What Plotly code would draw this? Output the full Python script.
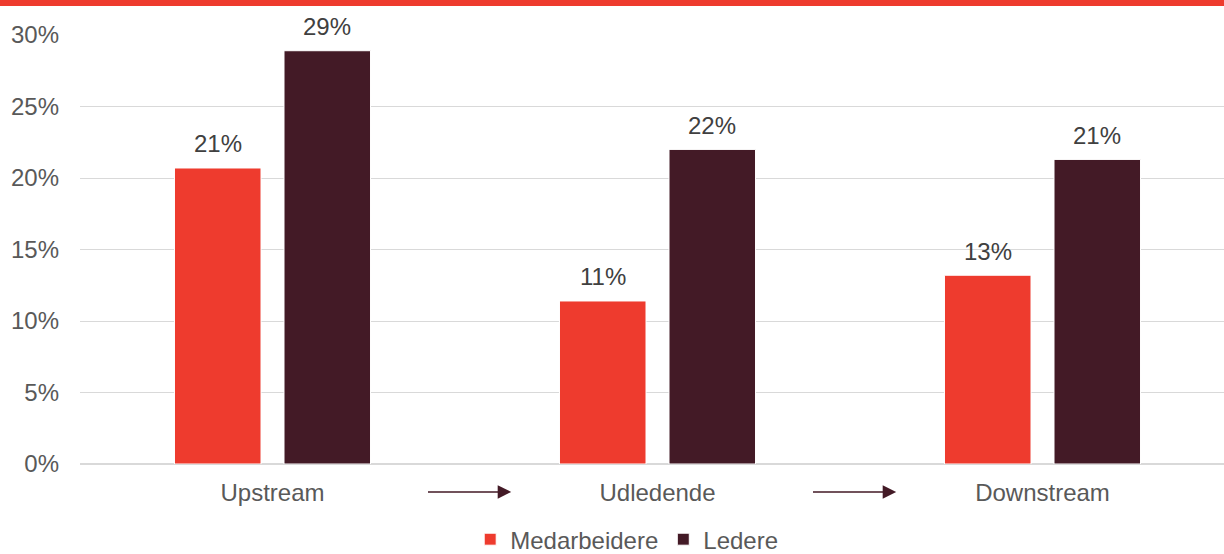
import plotly.graph_objects as go

categories = ["Upstream", "Udledende", "Downstream"]
medarbeidere = [0.207, 0.114, 0.132]
ledere = [0.289, 0.220, 0.213]
labels_med = ["21%", "11%", "13%"]
labels_led = ["29%", "22%", "21%"]
ytickvals = [0, 0.05, 0.10, 0.15, 0.20, 0.25, 0.30]
yticktext = ["0%", "5%", "10%", "15%", "20%", "25%", "30%"]

RED = "#EE3B2E"
DARK = "#431A26"
FONT = "Liberation Sans, Arial, sans-serif"
FS = 24

xpos = list(range(len(categories)))
bargap = 0.431
slot = (1 - bargap) / 2

fig = go.Figure()
fig.add_trace(go.Bar(name="Medarbeidere", x=xpos, y=medarbeidere, marker=dict(color=RED, line=dict(color="white", width=1))))
fig.add_trace(go.Bar(name="Ledere", x=xpos, y=ledere, marker=dict(color=DARK, line=dict(color="white", width=1))))

annotations = []
for i in xpos:
    for off, val, lab in ((-slot / 2, medarbeidere[i], labels_med[i]), (slot / 2, ledere[i], labels_led[i])):
        annotations.append(dict(x=i + off, y=val, xref="x", yref="y", text=lab, showarrow=False,
                                yanchor="middle", yshift=24, font=dict(size=FS, color="#404040", family=FONT)))
# arrows between categories
for i in range(len(categories) - 1):
    annotations.append(dict(x=i + 0.62, y=-0.065, xref="x", yref="paper", ax=i + 0.40, ay=0,
                            axref="x", ayref="pixel", text="", showarrow=True, arrowhead=2,
                            arrowsize=1.8, arrowwidth=1.5, arrowcolor=DARK, standoff=0))

fig.update_layout(
    width=1224, height=554,
    margin=dict(l=80, r=0, t=35, b=90),
    paper_bgcolor="white", plot_bgcolor="white",
    barmode="group", bargap=bargap, bargroupgap=0.21,
    font=dict(family=FONT, size=FS, color="#595959"),
    showlegend=True,
    legend=dict(orientation="h", xref="container", x=0.512, xanchor="center",
                yref="container", y=0.026, yanchor="middle", font=dict(size=FS, color="#595959"),
                itemclick=False, traceorder="normal", itemwidth=30, tracegroupgap=0),
    annotations=annotations,
    shapes=[dict(type="rect", xref="paper", yref="paper", x0=-80 / 1144, x1=1.0,
                 y0=1 + 29 / 429, y1=1 + 36 / 429, fillcolor=RED, line=dict(width=0), layer="above")],
)
fig.update_xaxes(range=[-0.5, -0.5 + 1144 / 385], tickvals=xpos, ticktext=categories,
                 showgrid=False, showline=False, zeroline=False, ticks="", ticklabelstandoff=12,
                 tickfont=dict(size=FS, color="#595959"))
fig.update_yaxes(range=[0, 0.30], tickvals=ytickvals, ticktext=yticktext, showgrid=True,
                 gridcolor="#D9D9D9", gridwidth=1, zeroline=True, zerolinecolor="#D9D9D9", zerolinewidth=2,
                 showline=False, ticks="", ticklabelstandoff=20, tickfont=dict(size=FS, color="#595959"))

fig.write_html("out.html", config={"displayModeBar": False},
               post_script="document.body.style.margin='0';")
